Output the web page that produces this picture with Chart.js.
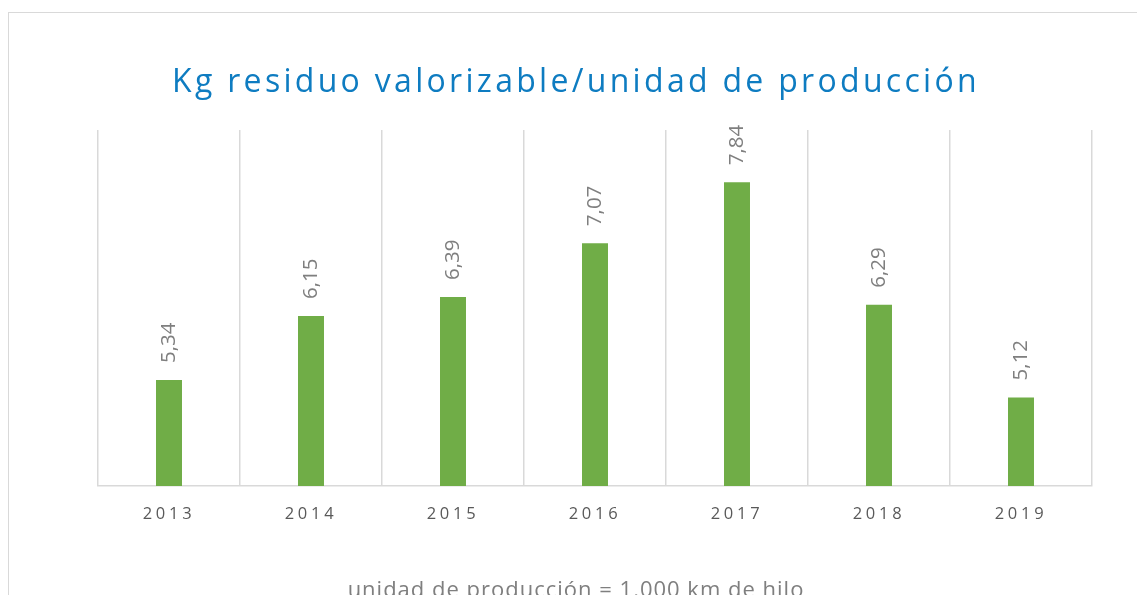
<!DOCTYPE html>
<html>
<head>
<meta charset="utf-8">
<script src="https://cdn.jsdelivr.net/npm/chart.js@4.4.1/dist/chart.umd.min.js"></script>
<style>
  html, body { margin: 0; padding: 0; background: #fff; overflow: hidden; }
  #wrap { position: relative; width: 1137px; height: 595px; overflow: hidden; }
  #frame { position: absolute; left: 8px; top: 12px; width: 1136px; height: 620px; border: 1.5px solid #d9d9d9; box-sizing: border-box; }
  #title { position: absolute; left: 8px; width: 1136px; top: 64px; text-align: center; font: 32px/32px "Open Sans"; letter-spacing: 3.3px; color: #0e7cc1; white-space: nowrap; }
  #note { position: absolute; left: 8px; width: 1136px; top: 577px; text-align: center; font: 22px/22px "Open Sans"; letter-spacing: 1px; color: #7f7f7f; white-space: nowrap; }
  canvas { position: absolute; left: 0; top: 0; }
</style>
</head>
<body>
<div id="wrap">
  <div id="frame"></div>
  <canvas id="chart" width="1137" height="595"></canvas>
  <div id="title">Kg residuo valorizable/unidad de producción</div>
  <div id="note">unidad de producción = 1.000 km de hilo</div>
</div>
<script>
  // ----- data -----
  const years = ["2013", "2014", "2015", "2016", "2017", "2018", "2019"];
  const kgPerUnit = [5.34, 6.15, 6.39, 7.07, 7.84, 6.29, 5.12];

  const fmt = (v) => v.toFixed(2).replace(".", ",");

  // spaced-out axis text like the original
  const spacing = {
    id: "spacing",
    beforeDraw(chart) { chart.ctx.letterSpacing = "3.7px"; },
    beforeDatasetsDraw(chart) { chart.ctx.letterSpacing = "0px"; },
    afterDraw(chart) { chart.ctx.letterSpacing = "0px"; }
  };

  // rotated value labels above the bars
  const barLabels = {
    id: "barLabels",
    afterDatasetsDraw(chart) {
      const ctx = chart.ctx;
      const meta = chart.getDatasetMeta(0);
      ctx.save();
      ctx.letterSpacing = "0px";
      ctx.font = '20.5px "Open Sans"';
      ctx.fillStyle = "#7f7f7f";
      ctx.textAlign = "left";
      ctx.textBaseline = "middle";
      meta.data.forEach((bar, i) => {
        ctx.save();
        ctx.translate(bar.x, bar.y - 17);
        ctx.rotate(-Math.PI / 2);
        ctx.fillText(fmt(kgPerUnit[i]), 0, 0);
        ctx.restore();
      });
      ctx.restore();
    }
  };

  new Chart(document.getElementById("chart").getContext("2d"), {
    type: "bar",
    data: {
      labels: years,
      datasets: [{
        data: kgPerUnit, backgroundColor: "#70ad47", borderWidth: 0,
        categoryPercentage: 1, barPercentage: 0.183
      }]
    },
    options: {
      responsive: false, animation: false,
      layout: { padding: { left: 98, right: 45, top: 130, bottom: 0 } },
      plugins: { legend: { display: false }, tooltip: { enabled: false }, title: { display: false } },
      scales: {
        x: {
          grid: { color: "#d9d9d9", lineWidth: 1.5, drawTicks: false, offset: true },
          border: { color: "#d9d9d9", width: 1.5 },
          ticks: { color: "#595959", font: { family: "Open Sans", size: 16.5 }, padding: 18, maxRotation: 0 },
          afterFit: (s) => { s.height = 109; }
        },
        y: { display: false, min: 4, max: 8.5 }
      }
    },
    plugins: [spacing, barLabels]
  });
</script>
</body>
</html>
